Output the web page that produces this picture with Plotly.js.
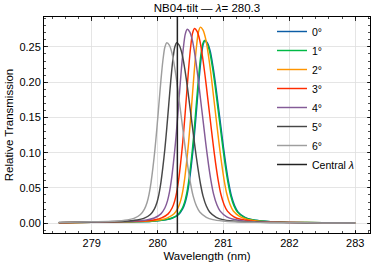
<!DOCTYPE html>
<html>
<head>
<meta charset="utf-8">
<script src="https://cdn.plot.ly/plotly-3.0.1.min.js"></script>
<style>html,body{margin:0;padding:0;background:#fff;}#chart{width:374px;height:266px;}</style>
</head>
<body>
<div id="chart"></div>
<script>
// ---- data ----
const seriesNames = ["0°", "1°", "2°", "3°", "4°", "5°", "6°"];
const seriesColors = ["#0C5DA5", "#00B945", "#FF9500", "#FF2C00", "#845B97", "#474747", "#9e9e9e"];

const wl0 = [278.5, 279.0, 279.5, 279.92, 280.12, 280.22, 280.32, 280.38, 280.42, 280.45, 280.48, 280.51, 280.54, 280.57, 280.60, 280.63, 280.66, 280.69, 280.72, 280.76, 280.80, 280.84, 280.88, 280.92, 280.96, 281.00, 281.04, 281.08, 281.12, 281.17, 281.22, 281.32, 281.42, 281.57, 281.72, 282.0, 282.5, 283.0];
const tr0 = [0.0006, 0.0012, 0.0020, 0.0028, 0.0047, 0.0070, 0.0124, 0.0202, 0.0298, 0.0414, 0.0583, 0.0803, 0.1062, 0.1373, 0.1709, 0.2046, 0.2331, 0.2525, 0.2590, 0.2551, 0.2435, 0.2227, 0.1968, 0.1671, 0.1373, 0.1075, 0.0803, 0.0570, 0.0389, 0.0246, 0.0161, 0.0085, 0.0052, 0.0031, 0.0021, 0.0012, 0.0007, 0.0004];

const wl1 = [278.5, 279.0, 279.5, 279.91, 280.11, 280.21, 280.31, 280.37, 280.41, 280.44, 280.47, 280.50, 280.53, 280.56, 280.59, 280.62, 280.65, 280.68, 280.71, 280.75, 280.79, 280.83, 280.87, 280.91, 280.95, 280.99, 281.03, 281.07, 281.11, 281.16, 281.21, 281.31, 281.41, 281.56, 281.71, 282.0, 282.5, 283.0];
const tr1 = [0.0006, 0.0012, 0.0020, 0.0028, 0.0047, 0.0070, 0.0124, 0.0202, 0.0298, 0.0414, 0.0583, 0.0803, 0.1062, 0.1373, 0.1709, 0.2046, 0.2331, 0.2525, 0.2590, 0.2551, 0.2435, 0.2227, 0.1968, 0.1671, 0.1373, 0.1075, 0.0803, 0.0570, 0.0389, 0.0246, 0.0161, 0.0085, 0.0052, 0.0031, 0.0021, 0.0012, 0.0007, 0.0004];

const wl2 = [278.5, 279.0, 279.5, 279.85, 280.05, 280.15, 280.25, 280.31, 280.35, 280.38, 280.41, 280.44, 280.47, 280.50, 280.53, 280.56, 280.59, 280.62, 280.65, 280.69, 280.73, 280.77, 280.81, 280.85, 280.89, 280.93, 280.97, 281.01, 281.05, 281.10, 281.15, 281.25, 281.35, 281.50, 281.65, 282.0, 282.5, 283.0];
const tr2 = [0.0007, 0.0013, 0.0022, 0.0031, 0.0050, 0.0075, 0.0133, 0.0217, 0.0320, 0.0445, 0.0626, 0.0862, 0.1140, 0.1473, 0.1835, 0.2196, 0.2502, 0.2711, 0.2780, 0.2738, 0.2613, 0.2391, 0.2113, 0.1793, 0.1473, 0.1154, 0.0862, 0.0612, 0.0417, 0.0264, 0.0172, 0.0092, 0.0056, 0.0033, 0.0022, 0.0012, 0.0007, 0.0004];

const wl3 = [278.5, 279.0, 279.5, 279.76, 279.96, 280.06, 280.16, 280.22, 280.26, 280.29, 280.32, 280.35, 280.38, 280.41, 280.44, 280.47, 280.50, 280.53, 280.56, 280.60, 280.64, 280.68, 280.72, 280.76, 280.80, 280.84, 280.88, 280.92, 280.96, 281.01, 281.06, 281.16, 281.26, 281.41, 281.56, 282.0, 282.5, 283.0];
const tr3 = [0.0007, 0.0014, 0.0024, 0.0030, 0.0050, 0.0075, 0.0132, 0.0215, 0.0317, 0.0442, 0.0621, 0.0856, 0.1132, 0.1463, 0.1822, 0.2180, 0.2484, 0.2691, 0.2760, 0.2719, 0.2594, 0.2374, 0.2098, 0.1780, 0.1463, 0.1145, 0.0856, 0.0607, 0.0414, 0.0262, 0.0171, 0.0091, 0.0055, 0.0033, 0.0022, 0.0011, 0.0006, 0.0004];

const wl4 = [278.5, 279.0, 279.5, 279.65, 279.85, 279.95, 280.05, 280.11, 280.15, 280.18, 280.21, 280.24, 280.27, 280.30, 280.33, 280.36, 280.39, 280.42, 280.45, 280.49, 280.53, 280.57, 280.61, 280.65, 280.69, 280.73, 280.77, 280.81, 280.85, 280.90, 280.95, 281.05, 281.15, 281.30, 281.45, 282.0, 282.5, 283.0];
const tr4 = [0.0008, 0.0015, 0.0025, 0.0030, 0.0050, 0.0074, 0.0132, 0.0215, 0.0316, 0.0440, 0.0619, 0.0853, 0.1128, 0.1458, 0.1815, 0.2173, 0.2475, 0.2681, 0.2750, 0.2709, 0.2585, 0.2365, 0.2090, 0.1774, 0.1458, 0.1141, 0.0853, 0.0605, 0.0413, 0.0261, 0.0171, 0.0091, 0.0055, 0.0033, 0.0022, 0.0010, 0.0006, 0.0003];

const wl5 = [278.5, 279.0, 279.49, 279.69, 279.79, 279.89, 279.95, 279.99, 280.02, 280.05, 280.08, 280.11, 280.14, 280.17, 280.20, 280.23, 280.26, 280.29, 280.33, 280.37, 280.41, 280.45, 280.49, 280.53, 280.57, 280.61, 280.65, 280.69, 280.74, 280.79, 280.89, 280.99, 281.14, 281.29, 281.7, 282.0, 282.5, 283.0];
const tr5 = [0.0009, 0.0018, 0.0028, 0.0046, 0.0069, 0.0123, 0.0200, 0.0294, 0.0410, 0.0576, 0.0794, 0.1050, 0.1357, 0.1690, 0.2022, 0.2304, 0.2496, 0.2560, 0.2522, 0.2406, 0.2202, 0.1946, 0.1651, 0.1357, 0.1062, 0.0794, 0.0563, 0.0384, 0.0243, 0.0159, 0.0084, 0.0051, 0.0031, 0.0020, 0.0010, 0.0008, 0.0005, 0.0003];

const wl6 = [278.5, 279.0, 279.34, 279.54, 279.64, 279.74, 279.80, 279.84, 279.87, 279.90, 279.93, 279.96, 279.99, 280.02, 280.05, 280.08, 280.11, 280.14, 280.18, 280.22, 280.26, 280.30, 280.34, 280.38, 280.42, 280.46, 280.50, 280.54, 280.59, 280.64, 280.74, 280.84, 280.99, 281.14, 281.5, 282.0, 282.5, 283.0];
const tr6 = [0.0010, 0.0020, 0.0028, 0.0046, 0.0069, 0.0123, 0.0200, 0.0294, 0.0410, 0.0576, 0.0794, 0.1050, 0.1357, 0.1690, 0.2022, 0.2304, 0.2496, 0.2560, 0.2522, 0.2406, 0.2202, 0.1946, 0.1651, 0.1357, 0.1062, 0.0794, 0.0563, 0.0384, 0.0243, 0.0159, 0.0084, 0.0051, 0.0031, 0.0020, 0.0012, 0.0007, 0.0004, 0.0003];

const centralWavelength = 280.3;
const xRange = [278.275, 283.225];
const yRange = [-0.0139, 0.2924];
const xTickVals = [279, 280, 281, 282, 283];
const yTickVals = [0.00, 0.05, 0.10, 0.15, 0.20, 0.25];

// ---- build ----
const wls = [wl0, wl1, wl2, wl3, wl4, wl5, wl6];
const trs = [tr0, tr1, tr2, tr3, tr4, tr5, tr6];
const FONT = "Liberation Sans, Arial, Helvetica, sans-serif";

const traces = seriesNames.map((n, i) => ({
  type: "scatter", mode: "lines", name: n,
  x: wls[i], y: trs[i],
  line: {color: seriesColors[i], width: 1.45, shape: "spline", smoothing: 0.8}
}));
traces.push({
  type: "scatter", mode: "lines", name: "Central <i>λ</i>",
  x: [centralWavelength, centralWavelength], y: yRange,
  line: {color: "#222222", width: 1.5}
});

const axisCommon = {
  showline: true, linecolor: "#000", linewidth: 1, mirror: "allticks",
  ticks: "inside", ticklen: 3.5, tickwidth: 0.8, tickcolor: "#000",
  showgrid: true, gridcolor: "#dedede", gridwidth: 0.8, zeroline: false,
  tickfont: {family: FONT, size: 11, color: "#000"}
};

const layout = {
  width: 374, height: 266,
  margin: {l: 44, r: 4, t: 17, b: 33},
  paper_bgcolor: "#fff", plot_bgcolor: "#fff",
  font: {family: FONT, color: "#000"},
  title: {text: "NB04-tilt — <i>λ</i>= 280.3", font: {family: FONT, size: 11.5, color: "#000"},
          x: 0.5, xref: "paper", xanchor: "center", y: 1 - 8/266, yref: "container", yanchor: "middle"},
  xaxis: Object.assign({}, axisCommon, {
    range: xRange, tickvals: xTickVals, ticktext: xTickVals.map(String),
    minor: {ticks: "inside", ticklen: 2, tickwidth: 0.7, tickcolor: "#000", dtick: 0.2, tick0: 279, showgrid: false},
    title: {text: "Wavelength (nm)", font: {family: FONT, size: 11.5, color: "#000"}, standoff: 3}
  }),
  yaxis: Object.assign({}, axisCommon, {
    range: yRange, tickvals: yTickVals, ticktext: yTickVals.map(v => v.toFixed(2)),
    minor: {ticks: "inside", ticklen: 2, tickwidth: 0.7, tickcolor: "#000", dtick: 0.01, tick0: 0, showgrid: false},
    title: {text: "Relative Transmission", font: {family: FONT, size: 11.5, color: "#000"}, standoff: 3}
  }),
  legend: {
    x: (272 - 44) / 326, xanchor: "left", y: 1, yanchor: "top",
    bgcolor: "rgba(255,255,255,0)", borderwidth: 0,
    font: {family: FONT, size: 10.5, color: "#000"}, tracegroupgap: 0
  },
  showlegend: true
};

Plotly.newPlot("chart", traces, layout, {staticPlot: true, displayModeBar: false});
</script>
</body>
</html>
